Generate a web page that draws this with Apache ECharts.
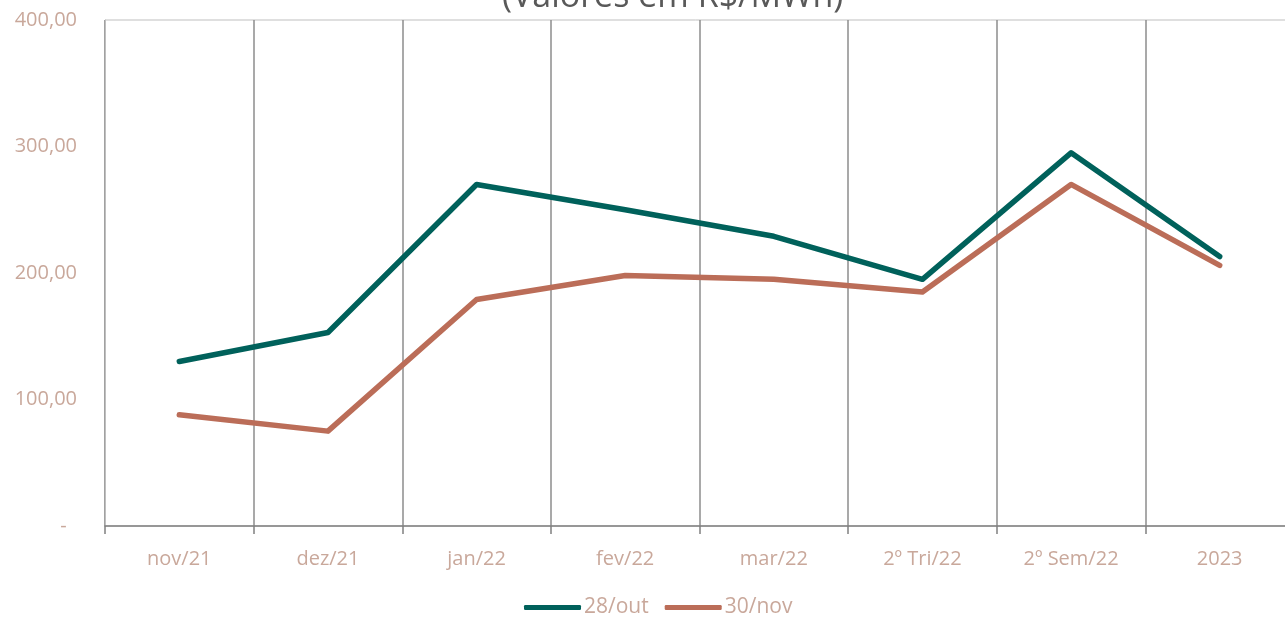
<!DOCTYPE html>
<html lang="pt" style="height: 100%">
<head>
  <meta charset="utf-8">
</head>
<body style="height: 100%; margin: 0">
  <div id="container" style="width: 1285px; height: 619px"></div>

  <script type="text/javascript" src="https://cdn.jsdelivr.net/npm/echarts@6/dist/echarts.min.js"></script>

  <script type="text/javascript">
    // dados (R$/MWh)
    var categorias = ['nov/21', 'dez/21', 'jan/22', 'fev/22', 'mar/22', '2º Tri/22', '2º Sem/22', '2023'];
    var serieOut = [130, 153, 270, 250, 229, 195, 295, 213];
    var serieNov = [88, 75, 179, 198, 195, 185, 270, 206];
    var nomes = ['28/out', '30/nov'];
    var cores = ['#00615b', '#bb6d58'];

    var corTexto = '#c9a89b';
    var fonte = 'Open Sans, Noto Sans, sans-serif';

    var dom = document.getElementById('container');
    var myChart = echarts.init(dom, null, { renderer: 'canvas' });

    var option = {
      title: {
        text: '(Valores em R$/MWh)',
        left: 497,
        top: -25,
        textStyle: { color: '#595959', fontSize: 34, fontWeight: 'normal', fontFamily: fonte }
      },
      legend: {
        bottom: -4,
        left: 519,
        itemWidth: 57,
        itemHeight: 5,
        itemGap: 16,
        icon: 'roundRect',
        textStyle: { color: corTexto, fontSize: 21, fontFamily: fonte, padding: [0, 0, 0, -2] },
        data: nomes
      },
      grid: {
        left: 105,
        width: 1189,
        top: 20,
        bottom: 93,
        outerBoundsMode: 'none',
        containLabel: false,
        show: true,
        borderColor: '#bfbfbf',
        borderWidth: 1
      },
      xAxis: {
        type: 'category',
        data: categorias,
        boundaryGap: true,
        axisLine: { lineStyle: { color: '#808080', width: 1.5 } },
        axisTick: { show: true, length: 8, lineStyle: { color: '#808080', width: 1.5 } },
        axisLabel: { color: corTexto, fontSize: 20, margin: 23, fontFamily: fonte },
        splitLine: { show: true, lineStyle: { color: '#8c8c8c', width: 1.5 } }
      },
      yAxis: {
        type: 'value',
        min: 0,
        max: 400,
        interval: 100,
        axisLine: { show: true, lineStyle: { color: '#bfbfbf', width: 1 } },
        axisTick: { show: false },
        splitLine: { show: false },
        axisLabel: {
          color: corTexto,
          fontSize: 20,
          margin: 28,
          fontFamily: fonte,
          formatter: function (v) {
            if (v === 0) return '-  ';
            return v.toFixed(2).replace('.', ',');
          }
        }
      },
      series: [
        {
          name: nomes[0],
          type: 'line',
          data: serieOut,
          symbol: 'none',
          lineStyle: { color: cores[0], width: 5.5, cap: 'round', join: 'round' },
          itemStyle: { color: cores[0] }
        },
        {
          name: nomes[1],
          type: 'line',
          data: serieNov,
          symbol: 'none',
          lineStyle: { color: cores[1], width: 5.5, cap: 'round', join: 'round' },
          itemStyle: { color: cores[1] }
        }
      ]
    };

    myChart.setOption(option);
    window.addEventListener('resize', myChart.resize);
  </script>
</body>
</html>
